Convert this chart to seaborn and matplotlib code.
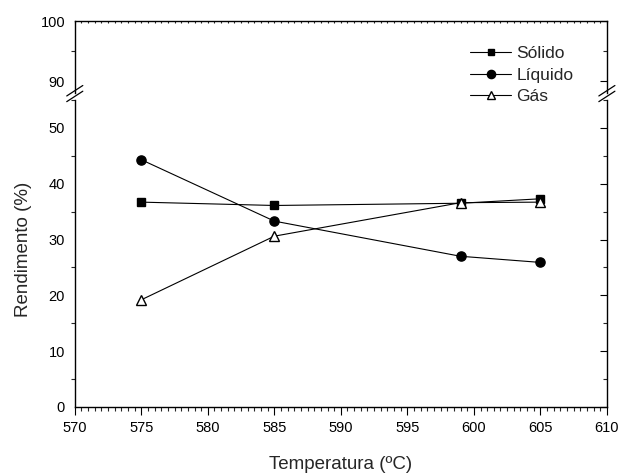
import matplotlib
matplotlib.use('Agg')
import matplotlib.pyplot as plt
from matplotlib.lines import Line2D
from matplotlib.ticker import MultipleLocator
import seaborn as sns

temperatura = [575, 585, 599, 605]
solido = [36.7, 36.1, 36.5, 37.3]
liquido = [44.3, 33.3, 27.0, 25.9]
gas = [19.2, 30.6, 36.6, 36.7]

series = [
    ('Sólido', solido, 's', 'black', 5.2),
    ('Líquido', liquido, 'o', 'black', 6.6),
    ('Gás', gas, '^', 'white', 7.0),
]

sns.set_style('white')
plt.rcParams['font.family'] = ['Liberation Sans', 'DejaVu Sans']

fig = plt.figure(figsize=(6.18, 4.75), dpi=100)
ax_top = fig.add_axes([0.121, 0.804, 0.861, 0.1516])
ax = fig.add_axes([0.121, 0.1432, 0.861, 0.6463])

for nome, vals, mk, face, ms in series:
    sns.lineplot(x=temperatura, y=vals, ax=ax, color='black', lw=0.8,
                 marker=mk, markersize=ms, markerfacecolor=face,
                 markeredgecolor='black', markeredgewidth=1.0, label=nome, legend=False)

ax.set_xlim(570, 610)
ax.set_ylim(0, 55)
ax_top.set_xlim(570, 610)
ax_top.set_ylim(88, 100)

for a in (ax, ax_top):
    for s in a.spines.values():
        s.set_color('black')
        s.set_linewidth(1.0)
    a.yaxis.set_major_locator(MultipleLocator(10))
    a.yaxis.set_minor_locator(MultipleLocator(5))
    a.tick_params(axis='y', which='major', direction='out', length=5, width=0.8,
                  labelsize=10.5, pad=2, right=True, colors='black')
    a.tick_params(axis='y', which='minor', direction='out', length=3, width=0.8,
                  left=True, right=True)

# ticks do lado direito para dentro
ax.tick_params(axis='y', which='both', labelright=False)
for a in (ax, ax_top):
    for t in a.yaxis.get_major_ticks() + a.yaxis.get_minor_ticks():
        t.tick2line.set_marker(matplotlib.lines.TICKLEFT)

ax.spines['top'].set_visible(False)
ax_top.spines['bottom'].set_visible(False)

ax.xaxis.set_major_locator(MultipleLocator(5))
ax.xaxis.set_minor_locator(MultipleLocator(0.5))
ax.tick_params(axis='x', which='major', direction='out', length=6, width=0.8,
               labelsize=10.5, pad=4, bottom=True, colors='black')
ax.tick_params(axis='x', which='minor', direction='out', length=3, width=0.8, bottom=True)

ax_top.xaxis.set_major_locator(MultipleLocator(5))
ax_top.xaxis.set_minor_locator(MultipleLocator(0.5))
ax_top.tick_params(axis='x', which='both', direction='in', length=1.5, width=0.8,
                   top=True, bottom=False, labelbottom=False, labeltop=False)

# marcas de quebra do eixo y
kw = dict(color='black', lw=0.9, clip_on=False, transform=fig.transFigure)
for xc in (0.121, 0.982):
    for yc in (0.797, 0.809):
        fig.add_artist(Line2D([xc - 0.013, xc + 0.013], [yc - 0.011, yc + 0.011], **kw))

ax.set_xlabel('Temperatura (ºC)', fontsize=13.5, labelpad=15)
fig.text(0.038, 0.475, 'Rendimento (%)', rotation=90, fontsize=13.5,
         ha='center', va='center')

handles = [Line2D([], [], color='black', lw=0.8, marker=mk, markersize=ms * 0.9,
                  markerfacecolor=face, markeredgecolor='black', markeredgewidth=1.0)
           for _, _, mk, face, ms in series]
fig.legend(handles, [s[0] for s in series], loc='upper left',
           bbox_to_anchor=(0.746, 0.922), frameon=False, fontsize=12.5,
           handlelength=2.4, handletextpad=0.3, labelspacing=0.38, borderpad=0)

fig.savefig('out.png', dpi=100)
